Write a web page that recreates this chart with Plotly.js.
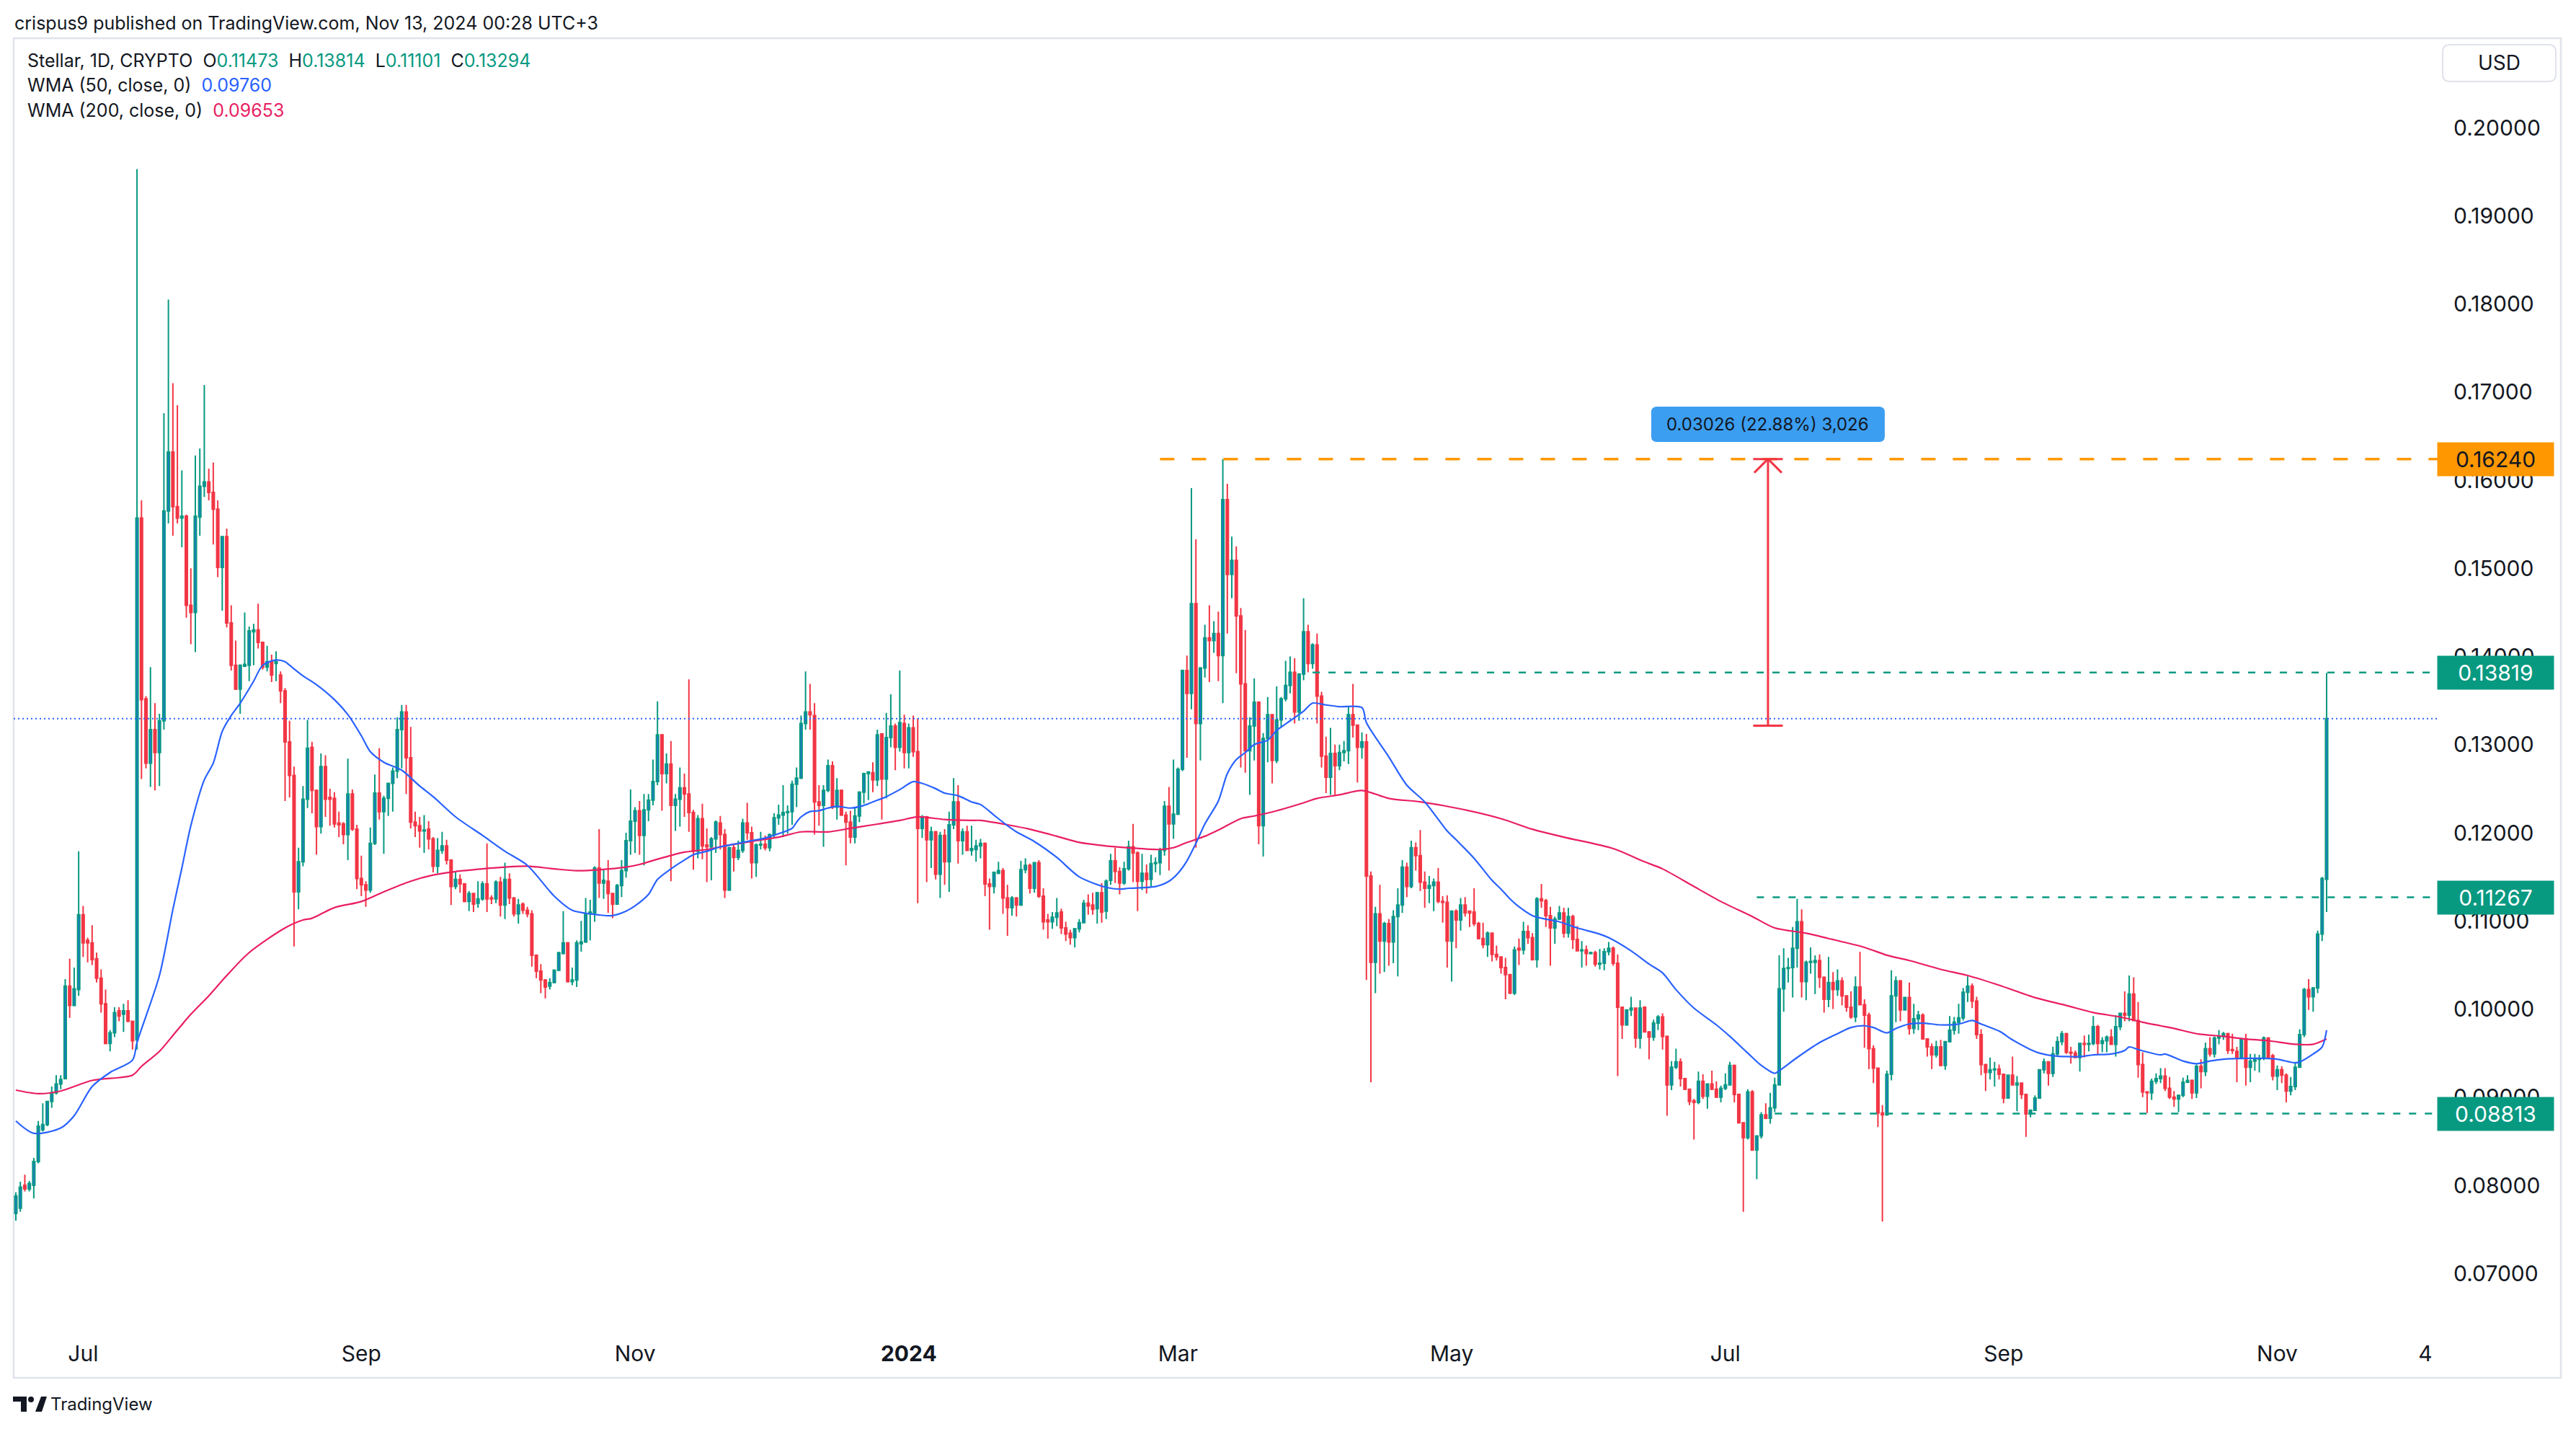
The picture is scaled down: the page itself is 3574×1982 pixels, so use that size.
<!DOCTYPE html>
<html><head><meta charset="utf-8">
<script src="https://cdn.plot.ly/plotly-3.0.1.min.js"></script>
<style>html,body{margin:0;padding:0;background:#fff;}#chart{width:3574px;height:1982px;}</style>
</head><body><div id="chart"></div>
<script>
// ---------------- DATA ----------------
const firstCandleDate = '2023-06-16';   // daily candles, one per day
const opens = [
0.0768,0.0774,0.0800,0.0796,0.0800,0.0827,0.0863,0.0869,0.0895,0.0905,
0.0915,0.0921,0.1026,0.1004,0.1022,0.1107,0.1078,0.1075,0.1057,0.1035,
0.1006,0.0961,0.0973,0.0998,0.0994,0.0998,0.0986,0.0965,0.1557,0.1352,
0.1279,0.1317,0.1291,0.1327,0.1565,0.1632,0.1570,0.1557,0.1559,0.1458,
0.1450,0.1558,0.1593,0.1598,0.1586,0.1567,0.1501,0.1536,0.1438,0.1390,
0.1363,0.1389,0.1390,0.1428,0.1430,0.1416,0.1388,0.1394,0.1392,0.1379,
0.1361,0.1303,0.1265,0.1133,0.1167,0.1238,0.1297,0.1248,0.1207,0.1275,
0.1240,0.1239,0.1211,0.1210,0.1198,0.1244,0.1204,0.1148,0.1141,0.1135,
0.1188,0.1245,0.1224,0.1239,0.1256,0.1270,0.1317,0.1337,0.1285,0.1212,
0.1208,0.1202,0.1204,0.1193,0.1162,0.1180,0.1185,0.1169,0.1139,0.1147,
0.1142,0.1122,0.1131,0.1120,0.1125,0.1142,0.1126,0.1125,0.1144,0.1118,
0.1147,0.1126,0.1108,0.1119,0.1112,0.1108,0.1061,0.1043,0.1033,0.1026,
0.1030,0.1044,0.1063,0.1075,0.1031,0.1033,0.1074,0.1076,0.1108,0.1109,
0.1160,0.1143,0.1145,0.1131,0.1119,0.1140,0.1157,0.1191,0.1213,0.1225,
0.1197,0.1226,0.1237,0.1258,0.1311,0.1267,0.1278,0.1231,0.1238,0.1251,
0.1244,0.1223,0.1179,0.1216,0.1186,0.1184,0.1193,0.1211,0.1198,0.1135,
0.1183,0.1172,0.1180,0.1211,0.1200,0.1166,0.1186,0.1187,0.1183,0.1198,
0.1217,0.1220,0.1223,0.1224,0.1255,0.1262,0.1324,0.1337,0.1333,0.1235,
0.1231,0.1248,0.1276,0.1229,0.1248,0.1220,0.1212,0.1195,0.1219,0.1246,
0.1267,0.1268,0.1260,0.1312,0.1261,0.1308,0.1321,0.1297,0.1324,0.1291,
0.1319,0.1292,0.1205,0.1218,0.1192,0.1201,0.1153,0.1197,0.1167,0.1209,
0.1235,0.1191,0.1201,0.1180,0.1181,0.1185,0.1188,0.1142,0.1139,0.1154,
0.1157,0.1126,0.1115,0.1126,0.1118,0.1158,0.1163,0.1137,0.1166,0.1128,
0.1101,0.1099,0.1104,0.1110,0.1092,0.1086,0.1081,0.1091,0.1098,0.1120,
0.1118,0.1114,0.1132,0.1111,0.1146,0.1168,0.1156,0.1143,0.1159,0.1184,
0.1177,0.1145,0.1154,0.1147,0.1165,0.1166,0.1180,0.1230,0.1210,0.1221,
0.1272,0.1384,0.1358,0.1460,0.1324,0.1387,0.1421,0.1418,0.1426,0.1401,
0.1578,0.1493,0.1509,0.1446,0.1369,0.1293,0.1321,0.1348,0.1208,0.1307,
0.1334,0.1282,0.1328,0.1352,0.1367,0.1382,0.1337,0.1380,0.1428,0.1392,
0.1413,0.1355,0.1287,0.1263,0.1290,0.1276,0.1291,0.1293,0.1334,0.1322,
0.1297,0.1303,0.1151,0.1053,0.1108,0.1077,0.1097,0.1076,0.1105,0.1118,
0.1161,0.1139,0.1183,0.1174,0.1144,0.1137,0.1140,0.1144,0.1122,0.1121,
0.1077,0.1111,0.1101,0.1118,0.1111,0.1110,0.1097,0.1080,0.1073,0.1086,
0.1062,0.1059,0.1047,0.1039,0.1018,0.1069,0.1067,0.1088,0.1081,0.1056,
0.1125,0.1123,0.1106,0.1092,0.1102,0.1109,0.1086,0.1105,0.1079,0.1066,
0.1067,0.1063,0.1064,0.1051,0.1052,0.1065,0.1069,0.1052,0.1002,0.0982,
0.0999,0.1001,0.0967,0.1002,0.0974,0.0968,0.0984,0.0991,0.0969,0.0914,
0.0934,0.0940,0.0921,0.0909,0.0896,0.0894,0.0918,0.0901,0.0915,0.0909,
0.0900,0.0910,0.0914,0.0936,0.0903,0.0871,0.0854,0.0906,0.0840,0.0856,
0.0880,0.0876,0.0888,0.0914,0.1023,0.1046,0.1047,0.1069,0.1099,0.1031,
0.1053,0.1053,0.1055,0.1036,0.1011,0.1030,0.1022,0.1032,0.1015,0.1002,
0.0991,0.1025,0.1005,0.0993,0.0955,0.0933,0.0882,0.0880,0.0926,0.1015,
0.1032,0.0999,0.1013,0.0978,0.0989,0.0993,0.0966,0.0957,0.0948,0.0957,
0.0936,0.0963,0.0976,0.0985,0.0990,0.1019,0.1026,0.1009,0.0971,0.0937,
0.0928,0.0931,0.0932,0.0926,0.0899,0.0925,0.0914,0.0916,0.0903,0.0881,
0.0885,0.0899,0.0931,0.0940,0.0927,0.0949,0.0963,0.0972,0.0951,0.0950,
0.0945,0.0961,0.0960,0.0961,0.0980,0.0961,0.0964,0.0968,0.0960,0.0980,
0.0995,0.0993,0.1017,0.0987,0.0937,0.0906,0.0905,0.0918,0.0921,0.0924,
0.0910,0.0900,0.0898,0.0902,0.0917,0.0919,0.0905,0.0935,0.0929,0.0955,
0.0949,0.0967,0.0969,0.0972,0.0954,0.0952,0.0944,0.0966,0.0934,0.0941,
0.0943,0.0944,0.0967,0.0947,0.0924,0.0931,0.0925,0.0907,0.0912,0.0934,
0.0971,0.1022,0.1014,0.1024,0.1085,0.11473];
const highs = [
0.0792,0.0804,0.0812,0.0805,0.0831,0.0873,0.0893,0.0896,0.0912,0.0925,
0.0925,0.1034,0.1057,0.1047,0.1179,0.1117,0.1081,0.1095,0.1064,0.1045,
0.1022,0.0976,0.1002,0.1002,0.1006,0.1010,0.0987,0.1953,0.1577,0.1355,
0.1388,0.1347,0.1335,0.1676,0.1805,0.1710,0.1685,0.1611,0.1561,0.1500,
0.1628,0.1636,0.1708,0.1613,0.1620,0.1577,0.1536,0.1545,0.1458,0.1418,
0.1391,0.1450,0.1434,0.1437,0.1460,0.1417,0.1412,0.1402,0.1406,0.1383,
0.1364,0.1327,0.1275,0.1183,0.1253,0.1328,0.1303,0.1249,0.1290,0.1288,
0.1250,0.1246,0.1224,0.1212,0.1284,0.1249,0.1209,0.1174,0.1145,0.1206,
0.1266,0.1296,0.1242,0.1256,0.1274,0.1331,0.1345,0.1345,0.1320,0.1224,
0.1218,0.1220,0.1213,0.1195,0.1194,0.1201,0.1192,0.1170,0.1156,0.1153,
0.1143,0.1134,0.1132,0.1145,0.1145,0.1188,0.1129,0.1146,0.1150,0.1166,
0.1154,0.1127,0.1125,0.1121,0.1116,0.1112,0.1062,0.1051,0.1034,0.1035,
0.1045,0.1064,0.1111,0.1076,0.1047,0.1078,0.1100,0.1126,0.1124,0.1162,
0.1204,0.1158,0.1169,0.1132,0.1142,0.1169,0.1200,0.1249,0.1229,0.1236,
0.1244,0.1244,0.1283,0.1349,0.1312,0.1290,0.1304,0.1244,0.1274,0.1267,
0.1374,0.1226,0.1220,0.1233,0.1205,0.1195,0.1214,0.1219,0.1204,0.1184,
0.1188,0.1191,0.1216,0.1234,0.1207,0.1188,0.1201,0.1197,0.1199,0.1222,
0.1232,0.1254,0.1231,0.1259,0.1274,0.1333,0.1383,0.1369,0.1347,0.1254,
0.1254,0.1283,0.1281,0.1262,0.1249,0.1224,0.1225,0.1229,0.1247,0.1268,
0.1270,0.1280,0.1317,0.1313,0.1336,0.1357,0.1324,0.1384,0.1334,0.1324,
0.1333,0.1330,0.1220,0.1219,0.1207,0.1202,0.1201,0.1204,0.1224,0.1262,
0.1254,0.1205,0.1208,0.1208,0.1192,0.1193,0.1189,0.1148,0.1156,0.1167,
0.1160,0.1141,0.1128,0.1127,0.1168,0.1171,0.1165,0.1166,0.1169,0.1137,
0.1108,0.1110,0.1126,0.1114,0.1099,0.1090,0.1092,0.1102,0.1124,0.1130,
0.1132,0.1133,0.1143,0.1147,0.1176,0.1183,0.1161,0.1167,0.1191,0.1210,
0.1179,0.1176,0.1164,0.1175,0.1172,0.1183,0.1236,0.1252,0.1283,0.1274,
0.1385,0.1401,0.1591,0.1533,0.1388,0.1436,0.1458,0.1440,0.1451,0.1624,
0.1596,0.1536,0.1525,0.1455,0.1430,0.1331,0.1375,0.1349,0.1313,0.1354,
0.1334,0.1366,0.1354,0.1395,0.1400,0.1398,0.1381,0.1466,0.1436,0.1415,
0.1426,0.1360,0.1309,0.1319,0.1300,0.1300,0.1304,0.1344,0.1369,0.1322,
0.1314,0.1312,0.1156,0.1116,0.1141,0.1099,0.1102,0.1112,0.1137,0.1169,
0.1166,0.1191,0.1189,0.1203,0.1156,0.1151,0.1148,0.1160,0.1128,0.1129,
0.1112,0.1113,0.1126,0.1127,0.1111,0.1137,0.1099,0.1098,0.1088,0.1086,
0.1072,0.1060,0.1058,0.1039,0.1071,0.1080,0.1099,0.1095,0.1086,0.1127,
0.1142,0.1125,0.1116,0.1105,0.1117,0.1115,0.1115,0.1107,0.1094,0.1077,
0.1072,0.1065,0.1066,0.1068,0.1069,0.1076,0.1071,0.1062,0.1002,0.0999,
0.1014,0.1001,0.1010,0.1003,0.0975,0.0988,0.0993,0.0995,0.0970,0.0941,
0.0955,0.0944,0.0921,0.0909,0.0898,0.0929,0.0926,0.0915,0.0930,0.0918,
0.0913,0.0927,0.0940,0.0937,0.0904,0.0871,0.0909,0.0908,0.0856,0.0883,
0.0893,0.0905,0.0922,0.1061,0.1069,0.1058,0.1093,0.1125,0.1113,0.1055,
0.1070,0.1061,0.1062,0.1037,0.1059,0.1042,0.1045,0.1036,0.1015,0.1020,
0.1037,0.1065,0.1011,0.0996,0.0959,0.0933,0.0891,0.0930,0.1044,0.1037,
0.1033,0.1014,0.1030,0.1006,0.0998,0.0995,0.0966,0.0961,0.0964,0.0965,
0.0963,0.0992,0.0991,0.1006,0.1024,0.1037,0.1029,0.1014,0.0977,0.0937,
0.0945,0.0940,0.0937,0.0926,0.0925,0.0946,0.0924,0.0916,0.0904,0.0886,
0.0902,0.0931,0.0944,0.0940,0.0957,0.0969,0.0975,0.0973,0.0957,0.0953,
0.0962,0.0970,0.0971,0.0992,0.0982,0.0968,0.0970,0.0977,0.0993,0.0994,
0.1020,0.1038,0.1036,0.1008,0.0951,0.0907,0.0921,0.0927,0.0933,0.0933,
0.0923,0.0907,0.0903,0.0922,0.0925,0.0920,0.0937,0.0943,0.0962,0.0968,
0.0969,0.0976,0.0974,0.0973,0.0972,0.0957,0.0967,0.0972,0.0949,0.0949,
0.0948,0.0969,0.0968,0.0949,0.0936,0.0935,0.0927,0.0923,0.0940,0.0977,
0.1024,0.1034,0.1025,0.1089,0.1150,0.13814];
const lows = [
0.0760,0.0770,0.0793,0.0793,0.0785,0.0825,0.0861,0.0867,0.0888,0.0903,
0.0909,0.0920,0.0990,0.1003,0.1015,0.1059,0.1053,0.1050,0.1030,0.0996,
0.0960,0.0952,0.0968,0.0986,0.0974,0.0985,0.0954,0.0954,0.1261,0.1273,
0.1252,0.1248,0.1253,0.1317,0.1551,0.1537,0.1551,0.1524,0.1444,0.1414,
0.1405,0.1537,0.1581,0.1577,0.1527,0.1490,0.1452,0.1433,0.1384,0.1362,
0.1335,0.1388,0.1372,0.1390,0.1409,0.1385,0.1383,0.1371,0.1372,0.1347,
0.1236,0.1240,0.1071,0.1113,0.1162,0.1228,0.1222,0.1175,0.1199,0.1218,
0.1208,0.1206,0.1195,0.1187,0.1169,0.1202,0.1136,0.1128,0.1116,0.1132,
0.1186,0.1215,0.1176,0.1219,0.1224,0.1262,0.1273,0.1244,0.1205,0.1195,
0.1183,0.1177,0.1181,0.1155,0.1154,0.1176,0.1164,0.1118,0.1136,0.1132,
0.1121,0.1111,0.1110,0.1115,0.1123,0.1110,0.1119,0.1120,0.1105,0.1102,
0.1119,0.1105,0.1097,0.1108,0.1104,0.1048,0.1035,0.1018,0.1012,0.1022,
0.1029,0.1043,0.1062,0.1030,0.1027,0.1025,0.1065,0.1075,0.1078,0.1099,
0.1126,0.1125,0.1109,0.1103,0.1119,0.1127,0.1149,0.1175,0.1177,0.1175,
0.1163,0.1213,0.1231,0.1254,0.1225,0.1256,0.1145,0.1202,0.1207,0.1218,
0.1201,0.1158,0.1171,0.1170,0.1144,0.1146,0.1177,0.1181,0.1126,0.1134,
0.1156,0.1169,0.1177,0.1192,0.1148,0.1150,0.1181,0.1180,0.1179,0.1195,
0.1209,0.1195,0.1199,0.1209,0.1229,0.1261,0.1317,0.1317,0.1198,0.1208,
0.1184,0.1246,0.1227,0.1215,0.1219,0.1163,0.1188,0.1188,0.1212,0.1233,
0.1237,0.1246,0.1253,0.1215,0.1239,0.1297,0.1271,0.1292,0.1273,0.1273,
0.1286,0.1120,0.1194,0.1144,0.1160,0.1147,0.1126,0.1141,0.1133,0.1204,
0.1165,0.1175,0.1180,0.1174,0.1167,0.1171,0.1128,0.1090,0.1131,0.1153,
0.1108,0.1083,0.1106,0.1105,0.1117,0.1154,0.1131,0.1132,0.1126,0.1090,
0.1080,0.1091,0.1094,0.1085,0.1077,0.1073,0.1070,0.1087,0.1098,0.1107,
0.1107,0.1097,0.1098,0.1102,0.1141,0.1143,0.1130,0.1141,0.1157,0.1144,
0.1111,0.1135,0.1131,0.1139,0.1155,0.1152,0.1174,0.1157,0.1193,0.1220,
0.1270,0.1285,0.1340,0.1183,0.1282,0.1376,0.1371,0.1404,0.1372,0.1347,
0.1426,0.1466,0.1381,0.1274,0.1268,0.1243,0.1282,0.1187,0.1173,0.1280,
0.1256,0.1279,0.1320,0.1349,0.1358,0.1324,0.1327,0.1373,0.1382,0.1386,
0.1324,0.1274,0.1245,0.1243,0.1243,0.1271,0.1281,0.1278,0.1308,0.1257,
0.1284,0.1033,0.0917,0.1018,0.1040,0.1042,0.1049,0.1052,0.1037,0.1109,
0.1127,0.1137,0.1157,0.1134,0.1115,0.1120,0.1111,0.1120,0.1098,0.1047,
0.1031,0.1069,0.1089,0.1105,0.1093,0.1094,0.1079,0.1069,0.1059,0.1054,
0.1055,0.1040,0.1011,0.1017,0.1016,0.1050,0.1062,0.1074,0.1055,0.1047,
0.1115,0.1093,0.1049,0.1074,0.1101,0.1081,0.1081,0.1068,0.1066,0.1047,
0.1049,0.1062,0.1048,0.1045,0.1044,0.1061,0.1049,0.0924,0.0966,0.0981,
0.0992,0.0956,0.0955,0.0974,0.0943,0.0964,0.0976,0.0954,0.0879,0.0908,
0.0932,0.0912,0.0908,0.0891,0.0852,0.0892,0.0898,0.0887,0.0908,0.0900,
0.0894,0.0908,0.0914,0.0894,0.0870,0.0770,0.0852,0.0839,0.0807,0.0853,
0.0875,0.0870,0.0883,0.0913,0.0997,0.1030,0.1013,0.1047,0.1013,0.1010,
0.1040,0.1017,0.1024,0.0996,0.1002,0.1000,0.1015,0.1004,0.0997,0.0989,
0.0985,0.1005,0.0956,0.0932,0.0916,0.0866,0.0759,0.0879,0.0919,0.0985,
0.0986,0.0999,0.0971,0.0972,0.0976,0.0966,0.0946,0.0932,0.0945,0.0935,
0.0931,0.0962,0.0971,0.0972,0.0987,0.1008,0.1001,0.0966,0.0925,0.0907,
0.0920,0.0912,0.0920,0.0893,0.0899,0.0913,0.0884,0.0898,0.0855,0.0877,
0.0885,0.0899,0.0927,0.0913,0.0923,0.0946,0.0959,0.0949,0.0938,0.0945,
0.0929,0.0945,0.0952,0.0959,0.0948,0.0951,0.0951,0.0960,0.0946,0.0976,
0.0986,0.0986,0.0986,0.0922,0.0900,0.0882,0.0897,0.0915,0.0916,0.0907,
0.0898,0.0889,0.0883,0.0900,0.0916,0.0898,0.0899,0.0910,0.0924,0.0946,
0.0945,0.0960,0.0965,0.0949,0.0949,0.0917,0.0943,0.0913,0.0917,0.0930,
0.0928,0.0942,0.0944,0.0919,0.0908,0.0916,0.0894,0.0902,0.0908,0.0934,
0.0968,0.0999,0.0997,0.1018,0.1077,0.11101];
const closes = [
0.0788,0.0798,0.0796,0.0802,0.0827,0.0867,0.0869,0.0895,0.0905,0.0915,
0.0920,0.1026,0.1004,0.1023,0.1107,0.1075,0.1075,0.1056,0.1035,0.1006,
0.0961,0.0973,0.0996,0.0992,0.0998,0.0986,0.0964,0.1557,0.1351,0.1279,
0.1317,0.1291,0.1327,0.1565,0.1632,0.1570,0.1557,0.1559,0.1458,0.1450,
0.1559,0.1593,0.1598,0.1586,0.1567,0.1501,0.1536,0.1438,0.1390,0.1363,
0.1390,0.1391,0.1429,0.1430,0.1416,0.1388,0.1394,0.1379,0.1394,0.1361,
0.1303,0.1265,0.1133,0.1167,0.1238,0.1296,0.1248,0.1207,0.1275,0.1238,
0.1238,0.1210,0.1209,0.1198,0.1244,0.1204,0.1148,0.1141,0.1135,0.1188,
0.1245,0.1224,0.1239,0.1256,0.1270,0.1317,0.1337,0.1285,0.1212,0.1208,
0.1202,0.1203,0.1193,0.1162,0.1180,0.1185,0.1169,0.1139,0.1147,0.1142,
0.1122,0.1131,0.1119,0.1125,0.1142,0.1125,0.1125,0.1144,0.1118,0.1147,
0.1126,0.1108,0.1118,0.1112,0.1108,0.1061,0.1043,0.1033,0.1025,0.1030,
0.1044,0.1064,0.1075,0.1031,0.1033,0.1075,0.1076,0.1108,0.1110,0.1160,
0.1143,0.1146,0.1131,0.1119,0.1140,0.1157,0.1191,0.1213,0.1225,0.1197,
0.1226,0.1237,0.1258,0.1311,0.1267,0.1278,0.1231,0.1238,0.1251,0.1244,
0.1223,0.1179,0.1216,0.1185,0.1184,0.1193,0.1212,0.1198,0.1135,0.1183,
0.1172,0.1180,0.1211,0.1200,0.1166,0.1186,0.1187,0.1183,0.1198,0.1217,
0.1220,0.1223,0.1224,0.1255,0.1262,0.1324,0.1337,0.1334,0.1235,0.1231,
0.1248,0.1276,0.1229,0.1248,0.1220,0.1212,0.1195,0.1219,0.1246,0.1267,
0.1269,0.1260,0.1311,0.1261,0.1308,0.1321,0.1297,0.1325,0.1291,0.1319,
0.1292,0.1205,0.1218,0.1192,0.1201,0.1153,0.1197,0.1167,0.1209,0.1235,
0.1191,0.1201,0.1180,0.1182,0.1185,0.1188,0.1142,0.1139,0.1155,0.1157,
0.1126,0.1115,0.1126,0.1118,0.1158,0.1163,0.1137,0.1166,0.1128,0.1099,
0.1099,0.1104,0.1109,0.1092,0.1085,0.1081,0.1091,0.1098,0.1120,0.1117,
0.1113,0.1132,0.1110,0.1145,0.1168,0.1156,0.1143,0.1159,0.1184,0.1177,
0.1145,0.1154,0.1147,0.1165,0.1166,0.1180,0.1230,0.1210,0.1221,0.1272,
0.1384,0.1358,0.1460,0.1324,0.1387,0.1421,0.1418,0.1426,0.1401,0.1578,
0.1493,0.1509,0.1446,0.1369,0.1293,0.1321,0.1348,0.1208,0.1307,0.1334,
0.1282,0.1328,0.1352,0.1367,0.1382,0.1337,0.1380,0.1428,0.1392,0.1413,
0.1355,0.1287,0.1263,0.1290,0.1276,0.1291,0.1293,0.1334,0.1322,0.1297,
0.1303,0.1151,0.1053,0.1108,0.1077,0.1097,0.1076,0.1105,0.1118,0.1161,
0.1139,0.1183,0.1174,0.1144,0.1137,0.1140,0.1144,0.1122,0.1121,0.1077,
0.1111,0.1101,0.1118,0.1109,0.1109,0.1097,0.1080,0.1073,0.1086,0.1062,
0.1059,0.1047,0.1039,0.1018,0.1067,0.1067,0.1088,0.1081,0.1056,0.1125,
0.1123,0.1106,0.1092,0.1102,0.1109,0.1086,0.1105,0.1079,0.1066,0.1067,
0.1063,0.1064,0.1051,0.1052,0.1065,0.1069,0.1052,0.1002,0.0982,0.0999,
0.1001,0.0967,0.1001,0.0974,0.0968,0.0984,0.0991,0.0969,0.0914,0.0934,
0.0940,0.0921,0.0909,0.0895,0.0894,0.0918,0.0901,0.0915,0.0909,0.0900,
0.0910,0.0914,0.0936,0.0903,0.0871,0.0854,0.0906,0.0840,0.0856,0.0880,
0.0876,0.0888,0.0914,0.1023,0.1046,0.1047,0.1069,0.1099,0.1031,0.1053,
0.1054,0.1055,0.1036,0.1011,0.1030,0.1022,0.1032,0.1015,0.1002,0.0991,
0.1025,0.1005,0.0993,0.0955,0.0933,0.0882,0.0880,0.0926,0.1015,0.1032,
0.0999,0.1013,0.0978,0.0989,0.0993,0.0966,0.0957,0.0948,0.0957,0.0936,
0.0963,0.0976,0.0985,0.0990,0.1019,0.1026,0.1009,0.0971,0.0937,0.0928,
0.0931,0.0932,0.0926,0.0899,0.0925,0.0914,0.0916,0.0903,0.0881,0.0885,
0.0899,0.0931,0.0940,0.0927,0.0949,0.0963,0.0972,0.0951,0.0950,0.0945,
0.0961,0.0960,0.0961,0.0980,0.0961,0.0964,0.0968,0.0960,0.0980,0.0995,
0.0993,0.1017,0.0987,0.0937,0.0906,0.0905,0.0918,0.0921,0.0924,0.0910,
0.0900,0.0898,0.0902,0.0917,0.0919,0.0905,0.0935,0.0929,0.0955,0.0949,
0.0967,0.0969,0.0972,0.0953,0.0953,0.0944,0.0966,0.0934,0.0941,0.0944,
0.0944,0.0967,0.0945,0.0924,0.0931,0.0925,0.0907,0.0912,0.0934,0.0971,
0.1022,0.1014,0.1024,0.1085,0.1148,0.13294];

// WMA values (candle index -> value)
const wma50Idx = [0,4,10,13,17,21,26,27,32,35,37,39,42,44,46,48,50,53,55,58,60,61,64,67,71,74,77,79,82,86,90,93,98,104,109,114,120,124,128,133,136,138,141,143,146,149,151,154,157,159,162,165,167,170,173,174,175,177,179,181,183,186,189,191,194,197,200,202,205,207,210,213,215,218,221,223,227,232,237,243,246,248,254,257,259,261,263,265,268,270,272,274,276,279,281,284,287,289,292,295,300,301,306,310,314,319,321,325,329,331,333,335,338,341,344,348,353,355,360,364,367,370,374,379,382,386,389,392,393,397,402,406,409,412,414,417,419,422,425,429,433,436,438,442,445,449,451,454,460,463,467,470,471,473,478,479,483,486,489,492,497,501,504,508,509,512,514,515];
const wma50Val = [0.0873,0.0859,0.0865,0.0879,0.0912,0.0928,0.0942,0.0962,0.1038,0.1113,0.1160,0.1208,0.1260,0.1279,0.1315,0.1333,0.1347,0.1372,0.1390,0.1396,0.1394,0.1390,0.1378,0.1368,0.1351,0.1334,0.1310,0.1292,0.1280,0.1271,0.1253,0.1241,0.1218,0.1197,0.1179,0.1163,0.1128,0.1112,0.1108,0.1106,0.1111,0.1117,0.1130,0.1147,0.1159,0.1169,0.1175,0.1179,0.1184,0.1186,0.1189,0.1192,0.1194,0.1199,0.1205,0.1212,0.1218,0.1224,0.1225,0.1228,0.1230,0.1228,0.1231,0.1235,0.1241,0.1249,0.1258,0.1256,0.1250,0.1245,0.1242,0.1235,0.1232,0.1220,0.1208,0.1201,0.1190,0.1172,0.1150,0.1138,0.1136,0.1137,0.1139,0.1145,0.1154,0.1168,0.1188,0.1210,0.1236,0.1267,0.1283,0.1291,0.1300,0.1305,0.1316,0.1327,0.1338,0.1347,0.1345,0.1343,0.1342,0.1325,0.1286,0.1254,0.1235,0.1202,0.1192,0.1171,0.1146,0.1136,0.1125,0.1116,0.1106,0.1102,0.1099,0.1092,0.1085,0.1081,0.1066,0.1051,0.1041,0.1022,0.1001,0.0982,0.0969,0.0950,0.0936,0.0927,0.0930,0.0945,0.0962,0.0972,0.0979,0.0981,0.0979,0.0973,0.0978,0.0983,0.0984,0.0982,0.0983,0.0987,0.0983,0.0975,0.0965,0.0954,0.0950,0.0947,0.0946,0.0948,0.0949,0.0953,0.0957,0.0954,0.0948,0.0949,0.0941,0.0938,0.0941,0.0943,0.0944,0.0944,0.0943,0.0939,0.0940,0.0949,0.0957,0.0976];
const wma200Idx = [0,5,10,17,26,28,32,35,39,43,47,52,60,64,66,71,77,82,88,93,98,104,109,114,120,125,130,136,139,143,149,154,159,165,170,175,181,186,191,197,201,207,213,215,221,226,232,237,243,248,255,258,261,265,268,273,276,281,287,290,295,300,306,313,322,331,338,345,356,363,367,374,380,387,392,399,404,412,417,422,429,435,442,450,457,463,469,474,478,481,486,492,497,502,508,512,515];
const wma200Val = [0.0908,0.0904,0.0907,0.0919,0.0925,0.0935,0.0952,0.0970,0.0994,0.1015,0.1038,0.1064,0.1092,0.1101,0.1103,0.1115,0.1122,0.1133,0.1145,0.1152,0.1156,0.1159,0.1161,0.1162,0.1159,0.1157,0.1158,0.1161,0.1164,0.1170,0.1178,0.1181,0.1186,0.1191,0.1195,0.1201,0.1201,0.1205,0.1209,0.1214,0.1218,0.1215,0.1214,0.1214,0.1209,0.1204,0.1196,0.1189,0.1185,0.1183,0.1181,0.1183,0.1189,0.1196,0.1203,0.1216,0.1219,0.1225,0.1234,0.1239,0.1243,0.1248,0.1239,0.1235,0.1227,0.1216,0.1204,0.1195,0.1182,0.1167,0.1159,0.1139,0.1122,0.1105,0.1092,0.1086,0.1080,0.1070,0.1061,0.1055,0.1045,0.1038,0.1027,0.1013,0.1004,0.0996,0.0991,0.0985,0.0981,0.0978,0.0972,0.0969,0.0966,0.0964,0.0960,0.0960,0.0966];

// drawing-tool levels
const levelPrices   = [0.16240, 0.13819, 0.11267, 0.08813];
const levelStartIdx = [255, 289, 388, 392];
const levelLabels   = ['0.16240','0.13819','0.11267','0.08813'];
const measureFrom = 0.13214, measureTo = 0.16240, measureIdx = 390.5;
const measureText = '0.03026 (22.88%) 3,026';
const lastClose = 0.13294;

const priceTicks = [0.07,0.08,0.09,0.10,0.11,0.12,0.13,0.14,0.15,0.16,0.17,0.18,0.19,0.20];
const priceTickText = ['0.07000','0.08000','0.09000','0.10000','0.11000','0.12000','0.13000','0.14000','0.15000','0.16000','0.17000','0.18000','0.19000','0.20000'];
const timeTicks = ['2023-07-01','2023-09-01','2023-11-01','2024-01-01','2024-03-01','2024-05-01','2024-07-01','2024-09-01','2024-11-01','2024-12-04'];
const timeTickText = ['Jul','Sep','Nov','<b>2024</b>','Mar','May','Jul','Sep','Nov','4'];

// ---------------- HELPERS ----------------
const DAY = 86400000;
const t0 = Date.parse(firstCandleDate + 'T00:00:00Z');
function dayStr(i){ return new Date(t0 + i*DAY).toISOString().replace('T',' ').slice(0,19); }
const dates = opens.map((_, i) => dayStr(i));

const W = 3574, H = 1982, ML = 19, MR = 191, MT = 53, MB = 135;
const PW = W - ML - MR, PH = H - MT - MB;
const XMIN = -0.48, XMAX = 539.9, YMIN = 0.063395, YMAX = 0.210143;
const px = x => (x - ML) / PW;
const py = y => (H - MB - y) / PH;
const idxToPx = i => ML + (i - XMIN) / (XMAX - XMIN) * PW;
function rrect(x0, y0, x1, y1, r) {   // pixel box -> rounded path in paper coords
  const X = px, Y = py;
  return `M ${X(x0+r)} ${Y(y0)} L ${X(x1-r)} ${Y(y0)} Q ${X(x1)} ${Y(y0)} ${X(x1)} ${Y(y0+r)} ` +
         `L ${X(x1)} ${Y(y1-r)} Q ${X(x1)} ${Y(y1)} ${X(x1-r)} ${Y(y1)} L ${X(x0+r)} ${Y(y1)} ` +
         `Q ${X(x0)} ${Y(y1)} ${X(x0)} ${Y(y1-r)} L ${X(x0)} ${Y(y0+r)} Q ${X(x0)} ${Y(y0)} ${X(x0+r)} ${Y(y0)} Z`;
}

const FONT = 'Inter, Roboto, "Noto Sans", sans-serif';
const TXT = '#131722';
const GREEN = '#089981', RED = '#f23645', BLUE = '#2962ff', PINK = '#e91e63', ORANGE = '#ff9800';

// ---------------- TRACES ----------------
const candles = {
  type: 'candlestick', x: dates, open: opens, high: highs, low: lows, close: closes,
  increasing: { line: { color: GREEN, width: 2 }, fillcolor: '#2b6ee8' },
  decreasing: { line: { color: RED, width: 2 }, fillcolor: RED },
  whiskerwidth: 0, hoverinfo: 'skip', showlegend: false
};
const wma50 = { type: 'scatter', mode: 'lines', x: wma50Idx.map(dayStr), y: wma50Val,
  line: { color: BLUE, width: 2.2, shape: 'spline', smoothing: 0.8 }, hoverinfo: 'skip', showlegend: false };
const wma200 = { type: 'scatter', mode: 'lines', x: wma200Idx.map(dayStr), y: wma200Val,
  line: { color: PINK, width: 2.2, shape: 'spline', smoothing: 0.8 }, hoverinfo: 'skip', showlegend: false };

// ---------------- SHAPES ----------------
const xEnd = dayStr(545);
const shapes = [];
shapes.push({ type: 'rect', xref: 'paper', yref: 'paper', x0: px(19), x1: px(3553), y0: py(1911), y1: py(53),
  line: { color: '#e0e3eb', width: 2.5 }, fillcolor: 'rgba(0,0,0,0)', layer: 'below' });
shapes.push({ type: 'line', xref: 'paper', yref: 'y', x0: 0, x1: 1, y0: lastClose, y1: lastClose,
  line: { color: BLUE, width: 2, dash: '2px,4px' } });
levelPrices.forEach((p, k) => {
  const isOrange = k === 0;
  shapes.push({ type: 'line', xref: 'x', yref: 'y', x0: dayStr(levelStartIdx[k]), x1: xEnd, y0: p, y1: p,
    line: { color: isOrange ? ORANGE : GREEN, width: isOrange ? 3.5 : 2.5, dash: isOrange ? '20px,24px' : '10px,12px' } });
});
const xa = dayStr(measureIdx), xl = dayStr(measureIdx - 3.3), xr = dayStr(measureIdx + 3.3);
const xhl = dayStr(measureIdx - 3.05), xhr = dayStr(measureIdx + 3.05);
const headDy = 0.00155;
const arrowLine = { color: RED, width: 3 };
shapes.push({ type: 'line', xref: 'x', yref: 'y', x0: xa, x1: xa, y0: measureFrom, y1: measureTo, line: arrowLine });
shapes.push({ type: 'line', xref: 'x', yref: 'y', x0: xl, x1: xr, y0: measureFrom, y1: measureFrom, line: arrowLine });
shapes.push({ type: 'line', xref: 'x', yref: 'y', x0: xl, x1: xr, y0: measureTo, y1: measureTo, line: arrowLine });
shapes.push({ type: 'line', xref: 'x', yref: 'y', x0: xa, x1: xhl, y0: measureTo, y1: measureTo - headDy, line: arrowLine });
shapes.push({ type: 'line', xref: 'x', yref: 'y', x0: xa, x1: xhr, y0: measureTo, y1: measureTo - headDy, line: arrowLine });
// measure label rounded box
const mx = idxToPx(measureIdx);
shapes.push({ type: 'path', xref: 'paper', yref: 'paper', path: rrect(mx - 162, 564, mx + 162, 613, 8),
  fillcolor: '#3b9ef1', line: { width: 0 } });
// USD rounded box
shapes.push({ type: 'path', xref: 'paper', yref: 'paper', path: rrect(3389, 62, 3546, 113, 10),
  fillcolor: '#ffffff', line: { color: '#e0e3eb', width: 2 } });
// TradingView logo mark
shapes.push({ type: 'rect', xref: 'paper', yref: 'paper', x0: px(18), x1: px(37), y0: py(1944), y1: py(1937), fillcolor: TXT, line: { width: 0 } });
shapes.push({ type: 'rect', xref: 'paper', yref: 'paper', x0: px(29), x1: px(37), y0: py(1958), y1: py(1937), fillcolor: TXT, line: { width: 0 } });
shapes.push({ type: 'circle', xref: 'paper', yref: 'paper', x0: px(39), x1: px(47), y0: py(1945), y1: py(1937), fillcolor: TXT, line: { width: 0 } });
shapes.push({ type: 'path', xref: 'paper', yref: 'paper',
  path: `M ${px(49)} ${py(1958)} L ${px(57)} ${py(1937)} L ${px(65)} ${py(1937)} L ${px(58)} ${py(1958)} Z`, fillcolor: TXT, line: { width: 0 } });

// ---------------- ANNOTATIONS ----------------
const ann = [];
const g = v => `<span style="color:${GREEN}">${v}</span>`;
const sp = '\u00a0\u00a0';
ann.push({ xref: 'paper', yref: 'paper', x: px(18), y: py(32), xanchor: 'left', yanchor: 'middle', showarrow: false,
  text: 'crispus9 published on TradingView.com, Nov 13, 2024 00:28 UTC+3', font: { family: FONT, size: 25, color: TXT } });
ann.push({ xref: 'paper', yref: 'paper', x: px(36), y: py(84), xanchor: 'left', yanchor: 'middle', showarrow: false,
  text: 'Stellar, 1D, CRYPTO' + sp + 'O' + g('0.11473') + sp + 'H' + g('0.13814') + sp + 'L' + g('0.11101') + sp + 'C' + g('0.13294'),
  font: { family: FONT, size: 25, color: TXT } });
ann.push({ xref: 'paper', yref: 'paper', x: px(36), y: py(118), xanchor: 'left', yanchor: 'middle', showarrow: false,
  text: 'WMA (50, close, 0)' + sp + `<span style="color:${BLUE}">0.09760</span>`, font: { family: FONT, size: 25, color: TXT } });
ann.push({ xref: 'paper', yref: 'paper', x: px(36), y: py(153), xanchor: 'left', yanchor: 'middle', showarrow: false,
  text: 'WMA (200, close, 0)' + sp + `<span style="color:${PINK}">0.09653</span>`, font: { family: FONT, size: 25, color: TXT } });
ann.push({ xref: 'paper', yref: 'paper', x: px(68), y: py(1948), xanchor: 'left', yanchor: 'middle', showarrow: false,
  text: 'TradingView', font: { family: FONT, size: 24, color: TXT } });
ann.push({ xref: 'paper', yref: 'paper', x: px(3467), y: py(87), xanchor: 'center', yanchor: 'middle', showarrow: false,
  text: 'USD', font: { family: FONT, size: 28, color: TXT } });
levelPrices.forEach((p, k) => {
  const isOrange = k === 0;
  ann.push({ xref: 'paper', yref: 'y', x: px(3463), y: p, xanchor: 'center', yanchor: 'middle', showarrow: false,
    text: levelLabels[k], width: 159, height: 44, bgcolor: isOrange ? ORANGE : GREEN,
    font: { family: FONT, size: 30, color: isOrange ? TXT : '#ffffff' } });
});
ann.push({ xref: 'x', yref: 'y', x: xa, y: 0.16638, xanchor: 'center', yanchor: 'middle', showarrow: false,
  text: measureText, font: { family: FONT, size: 24, color: TXT } });

// ---------------- LAYOUT ----------------
const layout = {
  width: W, height: H,
  margin: { l: ML, r: MR, t: MT, b: MB, pad: 0 },
  paper_bgcolor: '#ffffff', plot_bgcolor: '#ffffff',
  font: { family: FONT, color: TXT },
  showlegend: false, hovermode: false, dragmode: false,
  xaxis: {
    type: 'date', range: [dayStr(XMIN), dayStr(XMAX)], rangeslider: { visible: false },
    tickmode: 'array', tickvals: timeTicks, ticktext: timeTickText,
    showgrid: false, zeroline: false, showline: false, ticks: '',
    tickfont: { family: FONT, size: 30, color: TXT }, ticklabelstandoff: 10
  },
  yaxis: {
    side: 'right', range: [YMIN, YMAX],
    tickmode: 'array', tickvals: priceTicks, ticktext: priceTickText,
    showgrid: false, zeroline: false, showline: false, ticks: '',
    tickfont: { family: FONT, size: 30, color: TXT }, ticklabelstandoff: 20
  },
  shapes: shapes, annotations: ann
};

Plotly.newPlot('chart', [wma200, wma50, candles], layout, { staticPlot: true, displayModeBar: false });
</script>
</body></html>
